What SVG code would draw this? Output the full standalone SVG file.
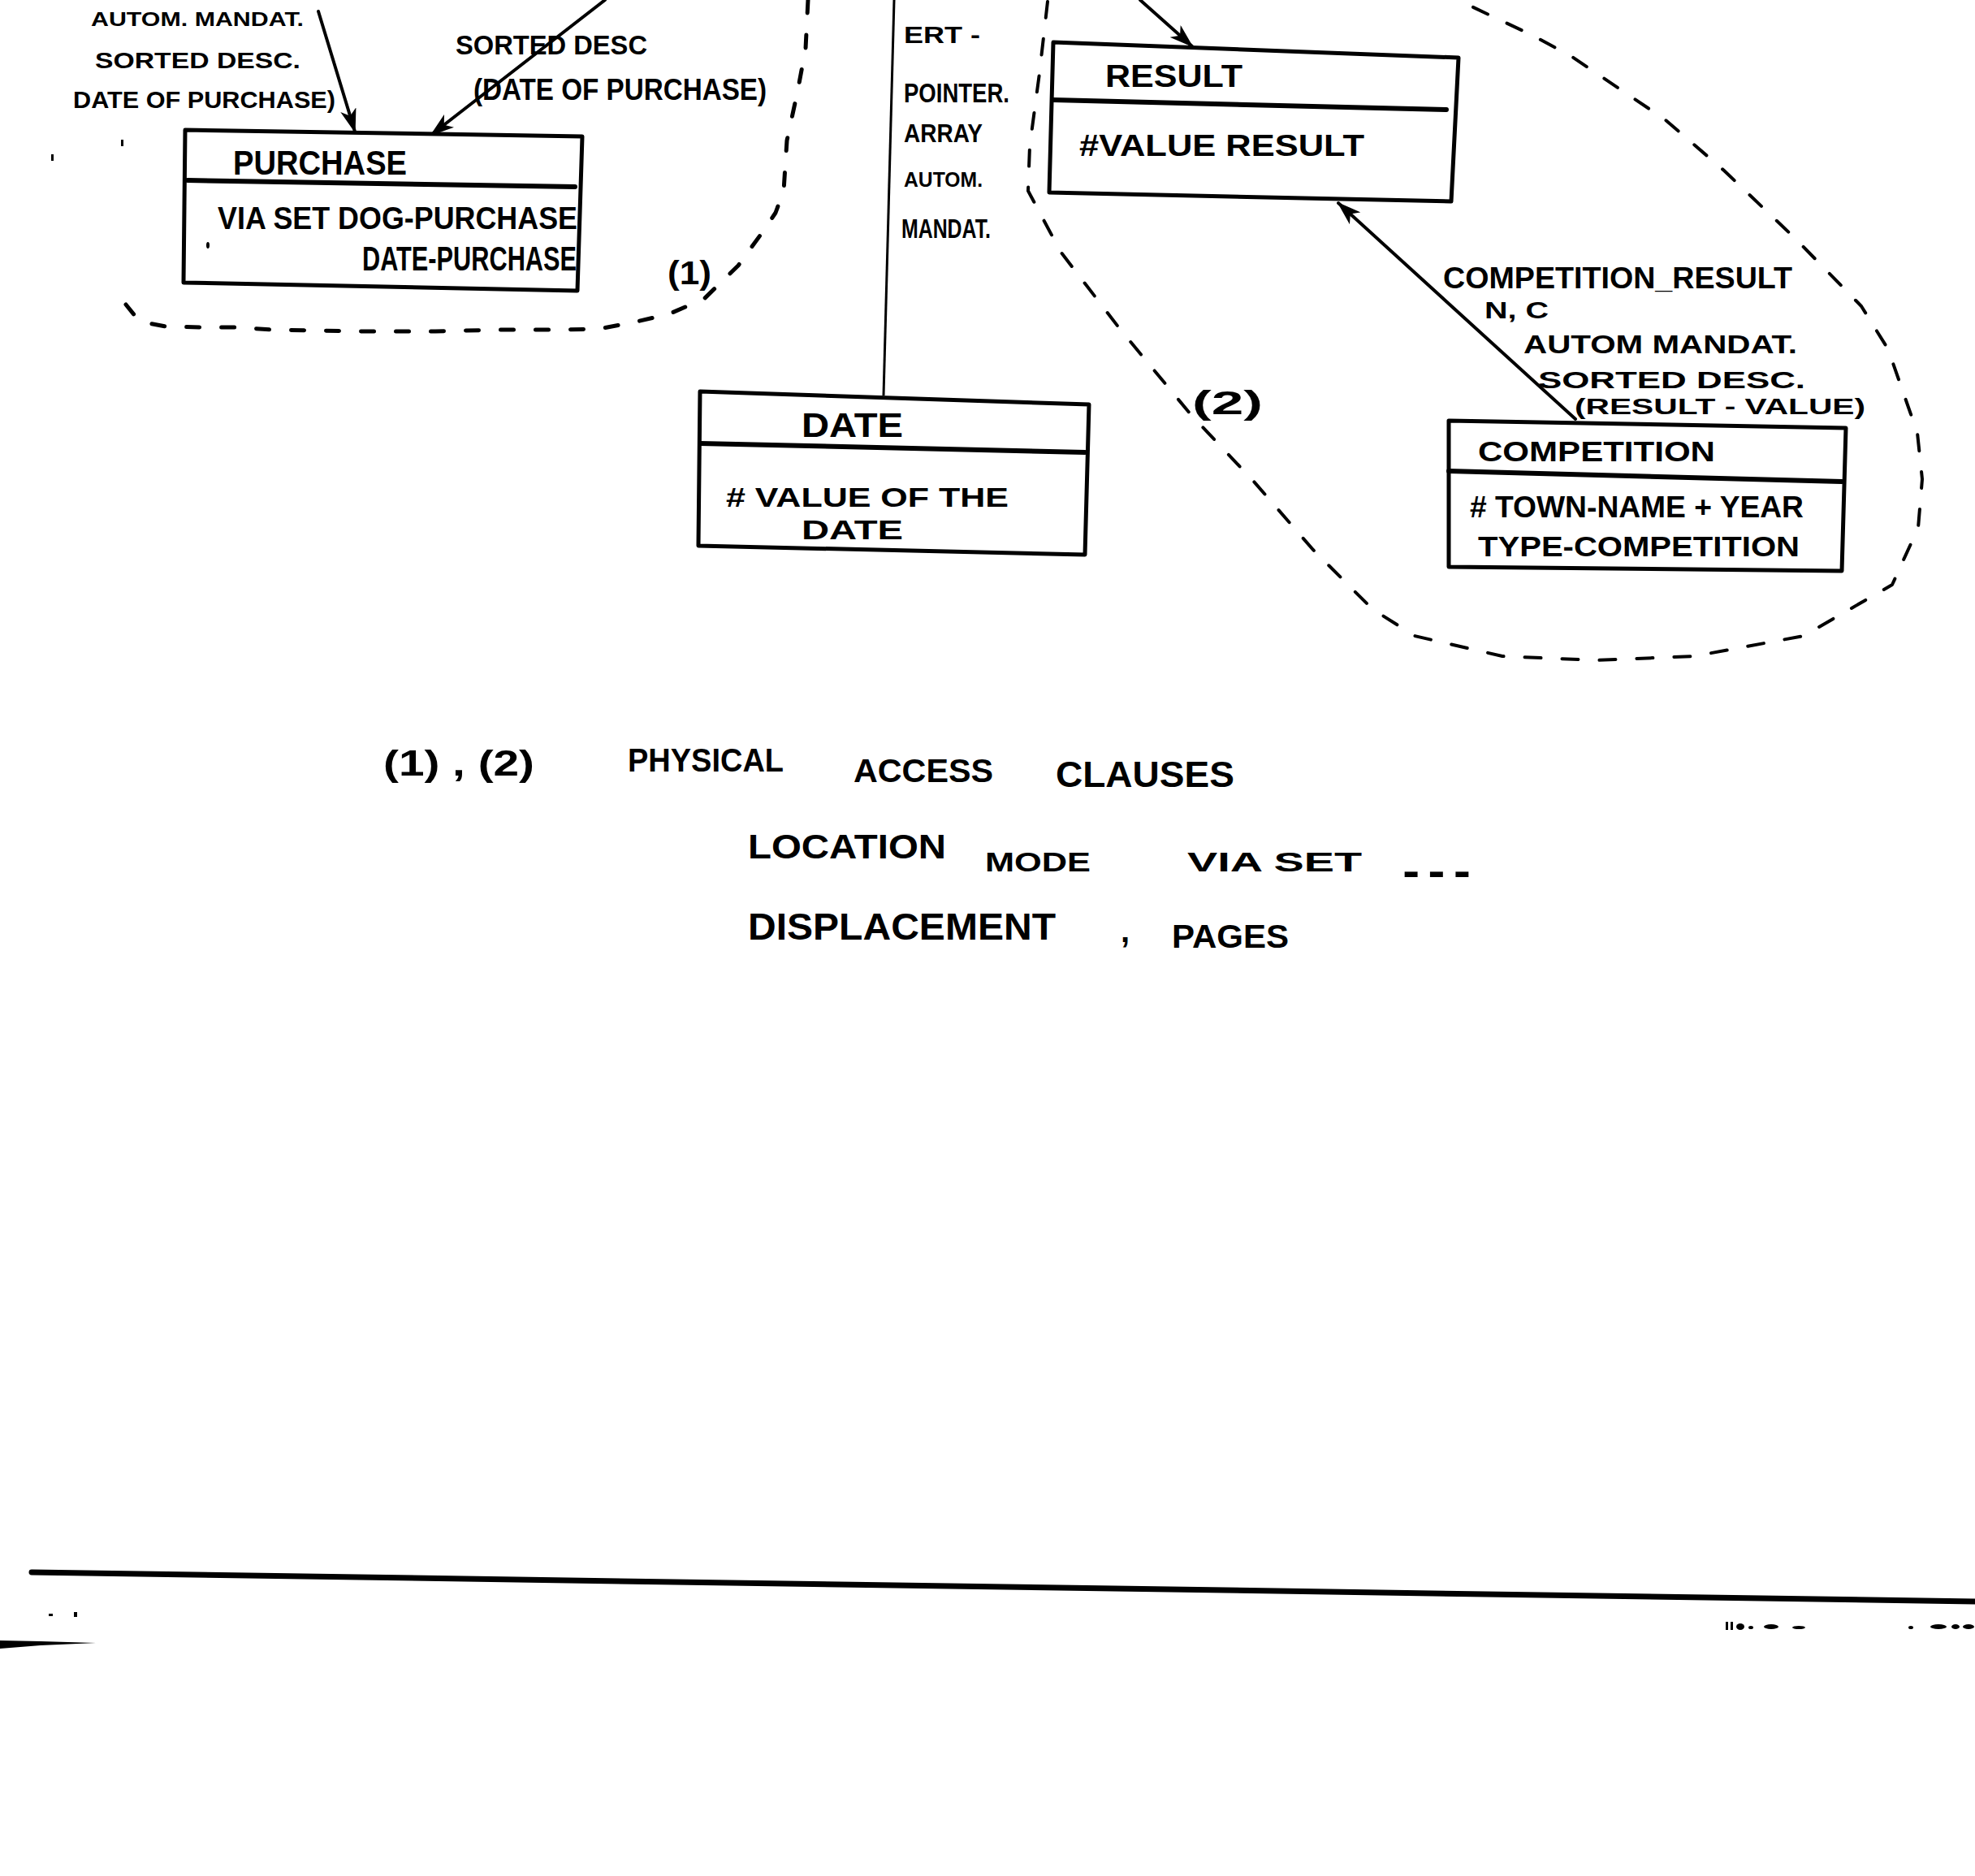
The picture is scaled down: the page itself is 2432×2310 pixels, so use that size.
<svg xmlns="http://www.w3.org/2000/svg" width="2432" height="2310" viewBox="0 0 2432 2310">
<style>
  text { font-family: "Liberation Sans", Arial, sans-serif; font-weight: bold; fill: #000; }
  .box { fill: #fff; stroke: #000; stroke-width: 5; stroke-linejoin: round; }
  .sep { stroke: #000; stroke-width: 6; stroke-linecap: round; }
  .rel { stroke: #000; stroke-width: 4; fill: none; stroke-linecap: round; }
  .thin { stroke: #000; stroke-width: 3; fill: none; }
  .dash1 { stroke: #000; stroke-width: 5; fill: none; stroke-dasharray: 16 27; stroke-linecap: round; stroke-linejoin: round; }
  .dash2 { stroke: #000; stroke-width: 4; fill: none; stroke-dasharray: 20 26; stroke-linecap: round; stroke-linejoin: round; }
  .speck { fill: #000; }
</style>
<defs>
  <marker id="ah" viewBox="0 0 30 20" refX="28" refY="10" markerWidth="30" markerHeight="20" orient="auto" markerUnits="userSpaceOnUse">
    <path d="M0,0 L30,10 L0,20 L8,10 Z" fill="#000"/>
  </marker>
</defs>
<rect width="2432" height="2310" fill="#fff"/>

<g id="connectors">
  <!-- access path boundaries -->
  <polyline class="dash1" points="995,0 992,60 982,113 969,173 965,235 955,262 941,283 909,327 867,368 823,387 775,398 737,405 692,406 615,406 536,408 446,408 395,407 335,406 290,403 246,403 204,402 172,396 155,375"/>
  <polyline class="dash2" points="1290,2 1280,90 1268,180 1266,235 1306,310 1379,405 1466,510 1544,593 1617,677 1690,750 1742,783 1850,808 1966,813 2086,808 2221,783 2330,720 2362,650 2367,590 2361,533 2325,430 2292,377 2210,293 2123,210 2050,147 1973,95 1936,70 1886,43 1831,17 1785,-5"/>
  <!-- relationships -->
  <line class="rel" x1="392" y1="14" x2="437" y2="162" marker-end="url(#ah)"/>
  <line class="rel" x1="745" y1="0" x2="531" y2="166" marker-end="url(#ah)"/>
  <line class="rel" x1="1404" y1="0" x2="1468" y2="57" marker-end="url(#ah)"/>
  <line class="thin" x1="1101" y1="0" x2="1088" y2="487"/>
  <line class="rel" x1="1940" y1="516" x2="1648" y2="250" marker-end="url(#ah)"/>
  <!-- relationship labels -->
  <text x="112" y="32" font-size="24" textLength="262" lengthAdjust="spacingAndGlyphs">AUTOM. MANDAT.</text>
  <text x="117" y="84" font-size="28" textLength="253" lengthAdjust="spacingAndGlyphs">SORTED DESC.</text>
  <text x="90" y="133" font-size="30" textLength="323" lengthAdjust="spacingAndGlyphs">DATE OF PURCHASE)</text>
  <text x="561" y="67" font-size="33" textLength="236" lengthAdjust="spacingAndGlyphs">SORTED DESC</text>
  <text x="583" y="123" font-size="36" textLength="361" lengthAdjust="spacingAndGlyphs">(DATE OF PURCHASE)</text>
  <text x="1113" y="53" font-size="30" textLength="94" lengthAdjust="spacingAndGlyphs">ERT -</text>
  <text x="1113" y="126" font-size="34" textLength="130" lengthAdjust="spacingAndGlyphs">POINTER.</text>
  <text x="1113" y="175" font-size="32" textLength="97" lengthAdjust="spacingAndGlyphs">ARRAY</text>
  <text x="1113" y="230" font-size="26" textLength="97" lengthAdjust="spacingAndGlyphs">AUTOM.</text>
  <text x="1110" y="293" font-size="34" textLength="110" lengthAdjust="spacingAndGlyphs">MANDAT.</text>
  <text x="1777" y="355" font-size="37" textLength="430" lengthAdjust="spacingAndGlyphs">COMPETITION_RESULT</text>
  <text x="1828" y="392" font-size="29" textLength="79" lengthAdjust="spacingAndGlyphs">N, C</text>
  <text x="1876" y="435" font-size="32" textLength="337" lengthAdjust="spacingAndGlyphs">AUTOM MANDAT.</text>
  <text x="1894" y="478" font-size="30" textLength="329" lengthAdjust="spacingAndGlyphs">SORTED DESC.</text>
  <text x="1939" y="510" font-size="27" textLength="358" lengthAdjust="spacingAndGlyphs">(RESULT - VALUE)</text>
  <text x="822" y="350" font-size="40" textLength="54" lengthAdjust="spacingAndGlyphs">(1)</text>
  <text x="1468" y="510" font-size="40" textLength="87" lengthAdjust="spacingAndGlyphs">(2)</text>
</g>

<g id="node-purchase">
  <polygon class="box" points="228,160 717,168 711,358 226,348"/>
  <line class="sep" x1="231" y1="222" x2="708" y2="230"/>
  <text x="287" y="215" font-size="42" textLength="214" lengthAdjust="spacingAndGlyphs">PURCHASE</text>
  <text x="268" y="282" font-size="38" textLength="443" lengthAdjust="spacingAndGlyphs">VIA SET DOG-PURCHASE</text>
  <text x="446" y="333" font-size="42" textLength="264" lengthAdjust="spacingAndGlyphs">DATE-PURCHASE</text>
</g>

<g id="node-result">
  <polygon class="box" points="1297,52 1796,71 1787,248 1292,237"/>
  <line class="sep" x1="1297" y1="123" x2="1781" y2="135"/>
  <text x="1361" y="107" font-size="38" textLength="169" lengthAdjust="spacingAndGlyphs">RESULT</text>
  <text x="1329" y="192" font-size="36" textLength="351" lengthAdjust="spacingAndGlyphs">#VALUE RESULT</text>
</g>

<g id="node-date">
  <polygon class="box" points="862,482 1341,498 1336,683 860,672"/>
  <line class="sep" x1="862" y1="546" x2="1336" y2="557"/>
  <text x="987" y="538" font-size="42" textLength="125" lengthAdjust="spacingAndGlyphs">DATE</text>
  <text x="894" y="624" font-size="33" textLength="348" lengthAdjust="spacingAndGlyphs"># VALUE OF THE</text>
  <text x="987" y="664" font-size="34" textLength="125" lengthAdjust="spacingAndGlyphs">DATE</text>
</g>

<g id="node-competition">
  <polygon class="box" points="1784,518 2273,527 2268,703 1784,698"/>
  <line class="sep" x1="1784" y1="580" x2="2268" y2="593"/>
  <text x="1820" y="568" font-size="35" textLength="292" lengthAdjust="spacingAndGlyphs">COMPETITION</text>
  <text x="1810" y="637" font-size="37" textLength="411" lengthAdjust="spacingAndGlyphs"># TOWN-NAME + YEAR</text>
  <text x="1820" y="685" font-size="35" textLength="396" lengthAdjust="spacingAndGlyphs">TYPE-COMPETITION</text>
</g>

<g id="notes">
  <text x="472" y="955" font-size="44" textLength="186" lengthAdjust="spacingAndGlyphs">(1) , (2)</text>
  <text x="773" y="950" font-size="40" textLength="192" lengthAdjust="spacingAndGlyphs">PHYSICAL</text>
  <text x="1051" y="963" font-size="40" textLength="172" lengthAdjust="spacingAndGlyphs">ACCESS</text>
  <text x="1300" y="969" font-size="44" textLength="220" lengthAdjust="spacingAndGlyphs">CLAUSES</text>
  <text x="921" y="1057" font-size="42" textLength="244" lengthAdjust="spacingAndGlyphs">LOCATION</text>
  <text x="1213" y="1073" font-size="33" textLength="130" lengthAdjust="spacingAndGlyphs">MODE</text>
  <text x="1462" y="1073" font-size="33" textLength="215" lengthAdjust="spacingAndGlyphs">VIA SET</text>
  <text x="1722" y="1080" font-size="44" textLength="94" lengthAdjust="spacingAndGlyphs">...</text>
  <text x="921" y="1157" font-size="46" textLength="379" lengthAdjust="spacingAndGlyphs">DISPLACEMENT</text>
  <text x="1380" y="1160" font-size="40">,</text>
  <text x="1443" y="1167" font-size="40" textLength="144" lengthAdjust="spacingAndGlyphs">PAGES</text>
</g>

<g id="page-rule">
  <line x1="39" y1="1936" x2="2432" y2="1972" stroke="#000" stroke-width="7" stroke-linecap="round"/>
  <polygon class="speck" points="0,2020 50,2021 118,2023 50,2026 0,2030"/>
  <rect class="speck" x="60" y="1987" width="5" height="3"/>
  <rect class="speck" x="91" y="1985" width="4" height="6"/>
  <rect class="speck" x="2125" y="1997" width="3" height="10"/>
  <rect class="speck" x="2131" y="1997" width="3" height="10"/>
  <ellipse class="speck" cx="2143" cy="2003" rx="5" ry="4"/>
  <ellipse class="speck" cx="2156" cy="2004" rx="3" ry="2"/>
  <ellipse class="speck" cx="2181" cy="2003" rx="9" ry="3"/>
  <ellipse class="speck" cx="2215" cy="2004" rx="8" ry="2"/>
  <ellipse class="speck" cx="2353" cy="2004" rx="3" ry="2"/>
  <ellipse class="speck" cx="2387" cy="2003" rx="10" ry="3"/>
  <ellipse class="speck" cx="2408" cy="2003" rx="5" ry="3"/>
  <ellipse class="speck" cx="2424" cy="2003" rx="7" ry="3"/>
</g>
<g id="specks">
  <rect class="speck" x="63" y="190" width="3" height="8"/>
  <rect class="speck" x="149" y="172" width="3" height="8"/>
  <ellipse class="speck" cx="256" cy="302" rx="2" ry="4"/>
</g>
</svg>
